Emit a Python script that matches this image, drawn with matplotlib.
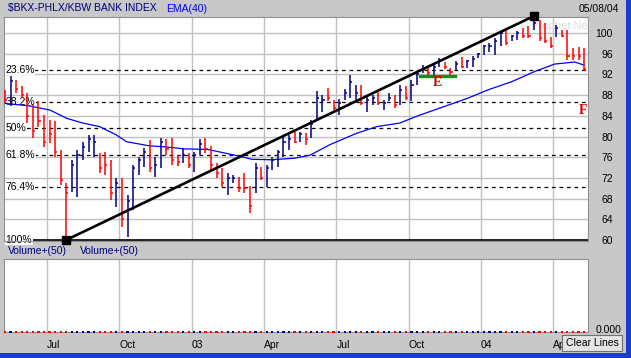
# Weekly $BKX bank index chart with Fibonacci retracement levels and EMA(40)

import numpy as np
import pandas as pd
import matplotlib
matplotlib.use('Agg')
import matplotlib.pyplot as plt
from matplotlib.patches import Rectangle

#------------------------ DATA -----------------------------------------------#
first_week = '2002-05-10'   # first weekly bar (Friday)
chart_date = '05/08/04'

highs = [89.0, 91.6, 90.9, 89.7, 88.4, 86.1, 86.8, 84.2, 83.2, 82.9,
         77.4, 71.0, 75.5, 77.4, 79.0, 80.3, 80.3, 76.8, 77.1, 75.5,
         71.9, 71.9, 68.7, 74.5, 76.1, 77.7, 79.3, 76.1, 79.7, 79.5,
         79.7, 76.4, 77.7, 76.8, 77.1, 79.5, 79.7, 78.2, 74.8, 73.9,
         72.9, 72.6, 72.2, 72.9, 70.4, 74.8, 74.1, 74.5, 76.1, 77.4,
         80.0, 80.3, 80.9, 80.9, 80.6, 83.2, 88.7, 88.0, 89.3, 87.1,
         87.2, 89.2, 91.9, 90.0, 90.0, 87.7, 88.0, 89.0, 87.1, 88.4,
         88.0, 90.0, 89.7, 90.9, 92.6, 93.8, 93.2, 93.8, 95.1, 94.4,
         93.2, 94.5, 95.3, 94.8, 95.5, 96.1, 97.7, 98.0, 99.0, 100.3,
         101.0, 99.7, 100.3, 101.0, 101.3, 103.3, 102.6, 101.9, 99.3, 101.6,
         100.6, 100.6, 97.1, 97.3, 97.1]

lows = [86.4, 85.8, 88.4, 87.4, 82.6, 79.7, 81.9, 78.0, 78.7, 76.1,
        70.6, 60.0, 69.3, 68.4, 75.5, 77.1, 76.1, 72.9, 72.6, 67.7,
        66.4, 62.6, 60.6, 65.8, 72.6, 74.2, 73.2, 72.2, 73.9, 76.4,
        74.5, 74.3, 74.8, 73.9, 73.2, 76.4, 76.8, 73.5, 71.9, 70.3,
        68.7, 71.0, 69.3, 69.0, 65.3, 69.0, 71.6, 70.3, 73.5, 74.2,
        76.1, 77.4, 78.7, 79.0, 78.4, 79.7, 83.2, 84.8, 86.8, 85.1,
        84.2, 87.1, 87.4, 86.4, 86.1, 84.8, 86.1, 86.1, 85.1, 86.8,
        85.5, 86.1, 87.1, 86.8, 90.0, 92.2, 91.9, 91.9, 93.5, 93.1,
        91.9, 92.9, 93.2, 93.2, 93.5, 95.1, 95.8, 96.4, 95.8, 97.4,
        97.6, 98.4, 98.7, 99.0, 99.0, 100.6, 98.4, 98.0, 97.2, 99.3,
        99.3, 94.8, 94.8, 94.8, 92.7]

closes = [87.0, 90.8, 89.2, 88.0, 84.0, 81.0, 83.0, 79.0, 80.5, 77.0,
          71.5, 69.0, 74.5, 76.5, 78.0, 79.5, 79.0, 74.0, 74.5, 69.0,
          71.0, 64.0, 67.5, 74.0, 75.5, 77.0, 74.0, 74.5, 79.0, 77.5,
          75.5, 75.0, 76.5, 74.5, 76.5, 78.5, 77.5, 74.5, 73.0, 71.0,
          72.0, 72.0, 70.0, 70.0, 66.5, 74.0, 72.0, 74.0, 75.5, 77.0,
          79.0, 79.5, 79.0, 80.5, 79.5, 82.5, 87.5, 87.0, 87.5, 85.5,
          86.5, 88.5, 90.5, 88.5, 86.5, 87.0, 87.5, 86.5, 86.5, 87.5,
          86.0, 89.0, 87.5, 90.0, 92.0, 93.0, 92.3, 93.5, 94.5, 93.5,
          92.5, 94.0, 93.5, 94.5, 95.0, 96.0, 97.5, 97.5, 98.5, 100.0,
          98.0, 99.5, 100.0, 99.5, 99.5, 102.0, 99.0, 98.5, 97.5, 101.0,
          99.5, 95.5, 95.5, 95.5, 93.0]

# b = up week (navy), r = down week (red)
direction = ("rbrrrrrrrr" "rrbbbbbrrr" "brbbbbrbbr" "rrbrbbrrrr" "bbrrrbrbbb"
             "bbrbrbbbrr" "bbbbrbbrbb" "rbrbbbrbbr" "rbrbbbbbbb" "rbbrrbrrrb"
             "rrrrr")

volume = [0.0] * len(highs)   # volume panel is empty (all 0.000)

# EMA(40) read at a few weeks
ema_weeks = [0, 4.5, 8.1, 11.1, 14, 17, 20, 21.8, 25.9, 28.7, 32.3, 36.4, 39.5,
             42.5, 44.3, 47.9, 52, 54.8, 58.3, 63.1, 66.7, 70.9, 73.9, 78.1,
             83.1, 86.7, 91, 95.2, 98.7, 102.3, 104]
ema_vals = [86.4, 85.9, 85.1, 83.5, 82.6, 81.9, 80.3, 79.0, 78.2, 78.0, 77.6, 77.5, 76.8,
            76.1, 75.6, 75.5, 75.8, 76.4, 78.4, 80.6, 81.9, 82.6, 83.9, 85.5,
            87.4, 89.0, 90.6, 92.6, 94.0, 94.4, 93.8]

# trend line low -> high, Fibonacci retracement between them
trend_weeks = [11, 95]
trend_prices = [60.0, 103.3]
fib_low, fib_high = 60.0, 103.1
fib_pcts = [23.6, 38.2, 50, 61.8, 76.4, 100]
fib_labels = ['23.6%', '38.2%', '50%', '61.8%', '76.4%', '100%']

# support mark "E" and target "F"
e_line_weeks = [74.6, 80.8]
e_line_price = 91.65
e_label = (77.7, 90.4)
f_label = (103.9, 85.1)

quarter_starts = ['2002-07-01', '2002-10-01', '2003-01-01', '2003-04-01',
                  '2003-07-01', '2003-10-01', '2004-01-01', '2004-04-01']
quarter_labels = ['Jul', 'Oct', '03', 'Apr', 'Jul', 'Oct', '04', 'Apr']
price_ticks = list(range(60, 101, 4))
#------------------------ DATA --------------------------#

plt.rcParams['font.family'] = ['Liberation Sans', 'DejaVu Sans']

W, H = 631, 358
BG = '#c8c8c8'
NAVY = '#000080'
RED = '#ff0000'
GRID = '#c0c0c0'
FS = 7.5

fig = plt.figure(figsize=(W / 100, H / 100), dpi=100, facecolor=BG)


def px_axes(x0, y0, x1, y1):
    # axes placed by pixel box (top-left origin)
    return fig.add_axes([x0 / W, 1 - y1 / H, (x1 - x0) / W, (y1 - y0) / H])


dates = pd.date_range(first_week, periods=len(highs), freq='W-FRI')
weeks = np.arange(len(highs))
grid_x = [np.searchsorted(dates, pd.Timestamp(q)) - 0.5 for q in quarter_starts]
bar_colors = [NAVY if d == 'b' else RED for d in direction]
xlim = (-0.18, 104.7)

# ---------------- price panel ----------------
ax = px_axes(4, 17, 588, 241)
ax.set_facecolor('white')
ax.set_xlim(*xlim)
ax.set_ylim(59.8, 103.1)

ax.set_yticks(price_ticks)
ax.yaxis.tick_right()
ax.tick_params(axis='y', length=0, pad=18, labelsize=FS)
for lbl in ax.get_yticklabels():
    lbl.set_horizontalalignment('right')
ax.set_xticks(grid_x)
ax.set_xticklabels([])
ax.tick_params(axis='x', length=0)
ax.grid(color=GRID, lw=1.0, zorder=0)
ax.set_axisbelow(True)
for s in ax.spines.values():
    s.set_color('#909090')
    s.set_linewidth(0.8)

# watermark
ax.text(92.5, 101.3, '\u00a9 Prophet.Net', color='#dcdcdc', fontsize=8,
        va='center', ha='left', zorder=1)

# fibonacci levels
for pct, lab in zip(fib_pcts, fib_labels):
    lvl = fib_high - pct / 100.0 * (fib_high - fib_low)
    if pct == 100:
        ax.axhline(lvl, color='black', lw=1.2, zorder=2)
    else:
        ax.axhline(lvl, color='black', lw=0.9, ls=(0, (3, 3)), zorder=2)
    ax.text(0.1, lvl, lab, fontsize=FS, va='center', ha='left', zorder=2.5,
            bbox=dict(facecolor='white', edgecolor='none', pad=0.3))

# EMA(40)
ax.plot(ema_weeks, ema_vals, color='#0000ff', lw=0.9, zorder=3)

# HLC bars
ax.vlines(weeks, lows, highs, colors=bar_colors, lw=1.1, zorder=4)
ax.hlines(closes, weeks, weeks + 0.38, colors=bar_colors, lw=1.1, zorder=4)

# trend line with end squares
ax.plot(trend_weeks, trend_prices, color='black', lw=1.9, zorder=5,
        solid_capstyle='butt')
ax.plot(trend_weeks, trend_prices, ls='none', marker='s', ms=5.5,
        color='black', zorder=6, clip_on=False)

# E / F marks
ax.plot(e_line_weeks, [e_line_price] * 2, color='#1a8c1a', lw=2.4, zorder=5)
ax.text(e_label[0], e_label[1], 'E', color='#e00000', fontsize=10,
        fontfamily='Liberation Serif', fontweight='bold', ha='center', va='center', zorder=6)
ax.text(f_label[0], f_label[1], 'F', color='#e00000', fontsize=10,
        fontfamily='Liberation Serif', fontweight='bold', ha='center', va='center', zorder=6)

# ---------------- volume panel ----------------
vax = px_axes(4, 259, 588, 332)
vax.set_facecolor('white')
vax.set_xlim(*xlim)
vax.set_ylim(0, 1)
vax.set_yticks([])
vax.set_xticks(grid_x)
vax.set_xticklabels(quarter_labels, fontsize=FS)
for lbl in vax.get_xticklabels():
    lbl.set_horizontalalignment('left')
vax.tick_params(axis='x', length=0, pad=6)
vax.grid(axis='x', color=GRID, lw=1.0)
vax.set_axisbelow(True)
for s in vax.spines.values():
    s.set_color('#909090')
    s.set_linewidth(0.8)
vax.scatter(weeks, volume, c=bar_colors, s=2.5, marker='s', lw=0,
            zorder=3, clip_on=False)

# ---------------- header / labels ----------------
fig.text(8 / W, 1 - 8.5 / H, '\\$BKX-PHLX/KBW BANK INDEX', color=NAVY,
         fontsize=FS, va='center', ha='left')
fig.text(166 / W, 1 - 8.5 / H, 'EMA(40)', color='#0000ff', fontsize=FS,
         va='center', ha='left')
fig.text(619 / W, 1 - 9 / H, chart_date, color='black', fontsize=FS,
         va='center', ha='right')
fig.text(8 / W, 1 - 251 / H, 'Volume+(50)', color=NAVY, fontsize=FS,
         va='center', ha='left')
fig.text(80 / W, 1 - 251 / H, 'Volume+(50)', color=NAVY, fontsize=FS,
         va='center', ha='left')
fig.text(622 / W, 1 - 330 / H, '0.000', color='black', fontsize=FS,
         va='center', ha='right')

# "Clear Lines" button
btn = Rectangle((562 / W, 1 - 351 / H), 60 / W, 16 / H, transform=fig.transFigure,
                facecolor='#e4e4e4', edgecolor='#707070', lw=0.8, zorder=10)
fig.patches.append(btn)
fig.text(592 / W, 1 - 343 / H, 'Clear Lines', color='black', fontsize=FS,
         va='center', ha='center', zorder=11)

# window frame (blue) on right and bottom
fig.patches.append(Rectangle((626 / W, 0), 5 / W, 1, transform=fig.transFigure,
                             facecolor='#1c3cc8', edgecolor='none', zorder=12))
fig.patches.append(Rectangle((0, 0), 1, 5 / H, transform=fig.transFigure,
                             facecolor='#1c3cc8', edgecolor='none', zorder=12))

plt.savefig('out.png', dpi=100, facecolor=BG)
